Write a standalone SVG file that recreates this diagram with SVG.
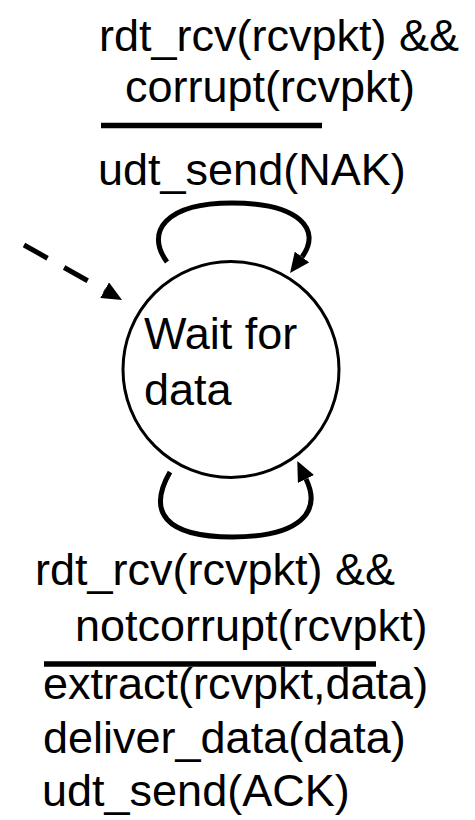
<svg xmlns="http://www.w3.org/2000/svg" width="475" height="820" viewBox="0 0 475 820">
<style>
text{font-family:"Liberation Sans",Arial,sans-serif;font-size:45px;fill:#000}
.bar{stroke:#000;stroke-width:5.5;fill:none}
.loop{stroke:#000;stroke-width:5;fill:none}
</style>
<defs>
<marker id="ah" markerUnits="userSpaceOnUse" markerWidth="20" markerHeight="18" refX="0" refY="9" orient="auto" viewBox="0 0 20 18">
<path d="M0,0 L20,9 L0,18 z" fill="#000"/>
</marker>
</defs>
<rect width="475" height="820" fill="#fff"/>
<g id="state-wait">
<circle cx="231" cy="369.5" r="108" fill="none" stroke="#000" stroke-width="3"/>
<text x="144" y="349">Wait for</text>
<text x="144" y="405">data</text>
</g>
<g id="connectors">
<path class="loop" d="M24,245 L104.6,290.2" stroke-dasharray="27,19" marker-end="url(#ah)"/>
<path class="loop" d="M167,262 C145,232 165,203 232,203 C300,203 322,230 302,257" marker-end="url(#ah)"/>
<path class="loop" d="M170,472 C147,512 165,537 232,537 C300,537 322,512 306,479" marker-end="url(#ah)"/>
</g>
<g id="label-top">
<text x="99" y="51">rdt_rcv(rcvpkt) &amp;&amp;</text>
<text x="125" y="102">corrupt(rcvpkt)</text>
<line class="bar" x1="101" y1="125.5" x2="322" y2="125.5"/>
<text x="98" y="185">udt_send(NAK)</text>
</g>
<g id="label-bottom">
<text x="35" y="585">rdt_rcv(rcvpkt) &amp;&amp;</text>
<text x="75" y="641">notcorrupt(rcvpkt)</text>
<line class="bar" x1="44" y1="664" x2="376" y2="664"/>
<text x="43" y="699">extract(rcvpkt,data)</text>
<text x="43" y="753">deliver_data(data)</text>
<text x="42" y="806">udt_send(ACK)</text>
</g>
</svg>
